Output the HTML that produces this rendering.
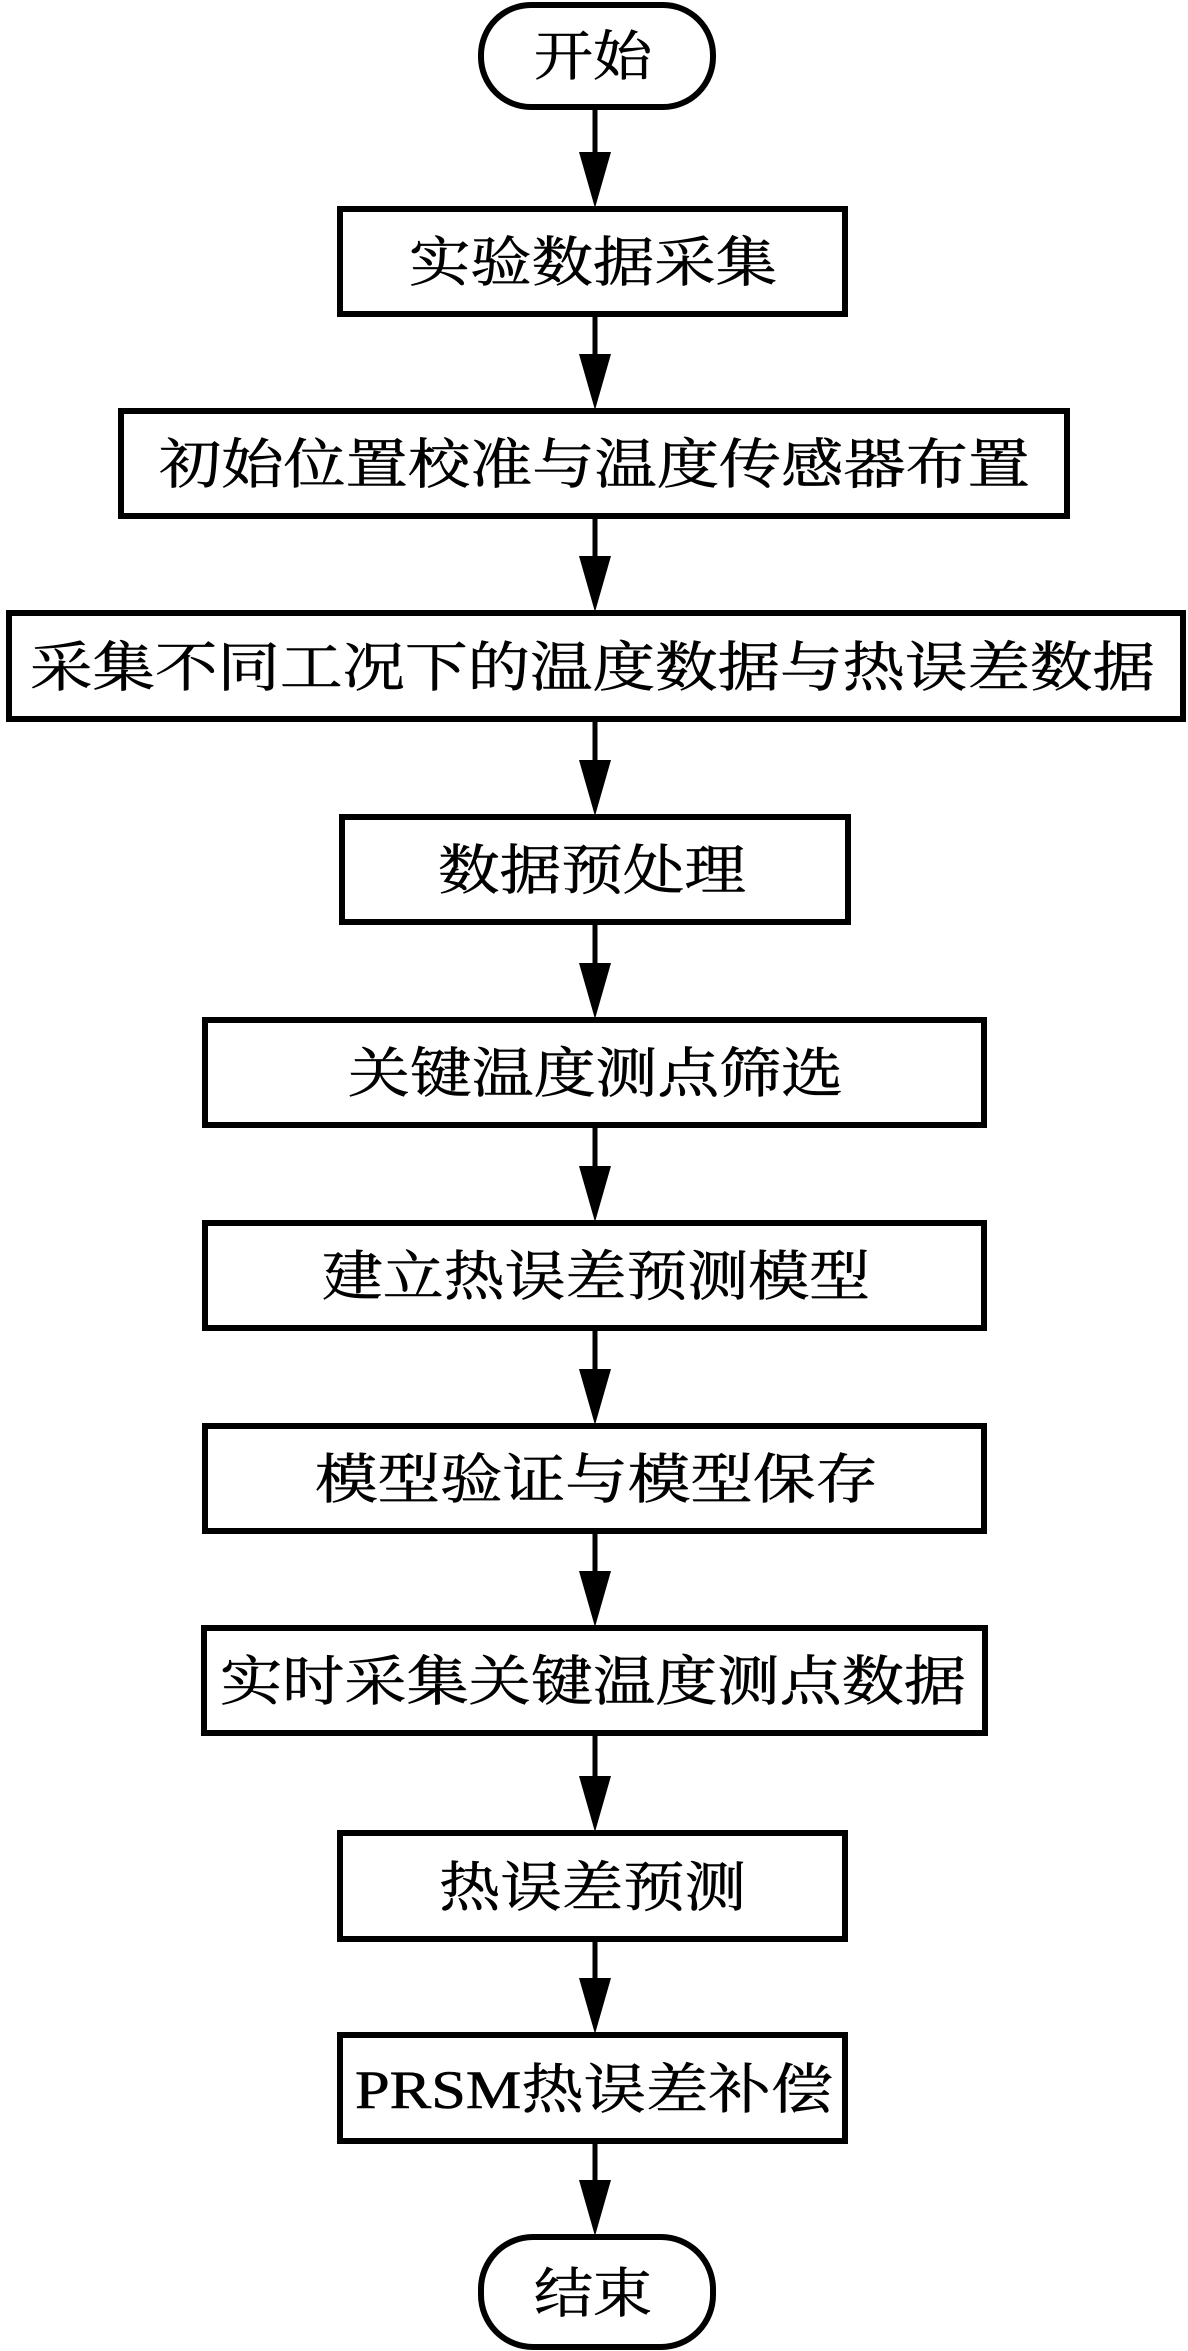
<!DOCTYPE html>
<html><head><meta charset="utf-8"><style>html,body{margin:0;padding:0;background:#fff}svg{display:block}</style></head>
<body>
<svg width="1188" height="2351" viewBox="0 0 1188 2351" xmlns="http://www.w3.org/2000/svg">
<g fill="#fff" stroke="#000" stroke-width="6">
<rect x="481" y="5" width="232" height="102" rx="50" ry="50"/>
<rect x="340" y="209" width="505" height="105"/>
<rect x="121" y="411" width="946" height="105"/>
<rect x="9" y="613" width="1174" height="106"/>
<rect x="342" y="817" width="506" height="105"/>
<rect x="205" y="1020" width="779" height="105"/>
<rect x="205" y="1223" width="779" height="105"/>
<rect x="205" y="1426" width="779" height="105"/>
<rect x="204" y="1628" width="781" height="105"/>
<rect x="340" y="1833" width="505" height="106"/>
<rect x="340" y="2035" width="505" height="106"/>
<rect x="481" y="2237" width="232" height="110" rx="52" ry="52"/>
</g>
<g stroke="#000" stroke-width="5">
<line x1="595" y1="108" x2="595" y2="160"/>
<line x1="595" y1="315" x2="595" y2="360"/>
<line x1="595" y1="517" x2="595" y2="563"/>
<line x1="595" y1="720" x2="595" y2="767"/>
<line x1="595" y1="923" x2="595" y2="970"/>
<line x1="595" y1="1126" x2="595" y2="1173"/>
<line x1="595" y1="1329" x2="595" y2="1376"/>
<line x1="595" y1="1532" x2="595" y2="1578"/>
<line x1="595" y1="1734" x2="595" y2="1783"/>
<line x1="595" y1="1940" x2="595" y2="1985"/>
<line x1="595" y1="2142" x2="595" y2="2187"/>
</g>
<g fill="#000">
<polygon points="579,152 611,152 595,208"/>
<polygon points="579,354 611,354 595,410"/>
<polygon points="579,556 611,556 595,612"/>
<polygon points="579,760 611,760 595,816"/>
<polygon points="579,963 611,963 595,1019"/>
<polygon points="579,1166 611,1166 595,1222"/>
<polygon points="579,1369 611,1369 595,1425"/>
<polygon points="579,1571 611,1571 595,1627"/>
<polygon points="579,1776 611,1776 595,1832"/>
<polygon points="579,1978 611,1978 595,2034"/>
<polygon points="579,2180 611,2180 595,2236"/>
</g>
<g font-family="'Liberation Serif','Noto Serif CJK SC',serif" font-size="54" fill="#000" stroke="#000" stroke-width="0.6">
<text x="534" y="75" textLength="118" lengthAdjust="spacingAndGlyphs">开始</text>
<text x="409" y="281" textLength="368" lengthAdjust="spacingAndGlyphs">实验数据采集</text>
<text x="159" y="483" textLength="871" lengthAdjust="spacingAndGlyphs">初始位置校准与温度传感器布置</text>
<text x="30" y="686" textLength="1125" lengthAdjust="spacingAndGlyphs">采集不同工况下的温度数据与热误差数据</text>
<text x="438" y="889" textLength="308" lengthAdjust="spacingAndGlyphs">数据预处理</text>
<text x="348" y="1092" textLength="495" lengthAdjust="spacingAndGlyphs">关键温度测点筛选</text>
<text x="322" y="1295" textLength="548" lengthAdjust="spacingAndGlyphs">建立热误差预测模型</text>
<text x="315" y="1498" textLength="563" lengthAdjust="spacingAndGlyphs">模型验证与模型保存</text>
<text x="220" y="1700" textLength="746" lengthAdjust="spacingAndGlyphs">实时采集关键温度测点数据</text>
<text x="439" y="1906" textLength="307" lengthAdjust="spacingAndGlyphs">热误差预测</text>
<text x="355" y="2108" textLength="478" lengthAdjust="spacingAndGlyphs">PRSM热误差补偿</text>
<text x="534" y="2312" textLength="118" lengthAdjust="spacingAndGlyphs">结束</text>
</g>
</svg>
</body></html>
